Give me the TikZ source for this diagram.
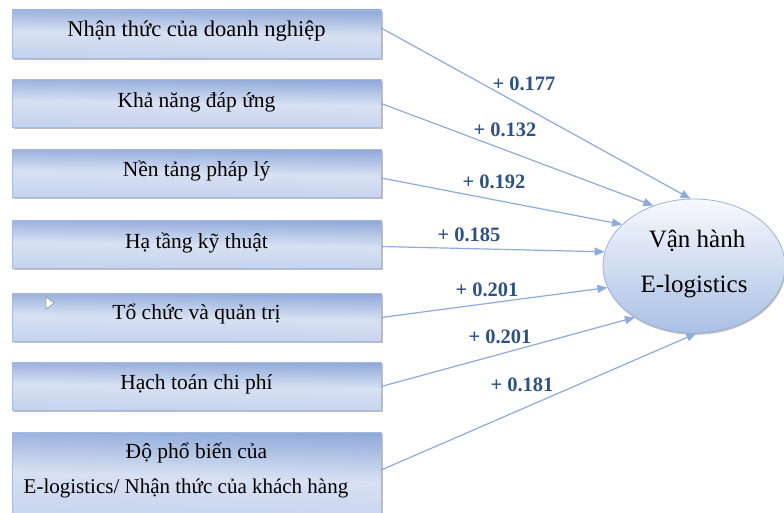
\documentclass[tikz,border=0pt]{standalone}
\usepackage{fontspec}
\setmainfont{Liberation Serif}
\usetikzlibrary{shapes.geometric,arrows.meta,shadows}
\definecolor{boxtop}{HTML}{8FA9D9}
\definecolor{boxmid}{HTML}{D8E1F3}
\definecolor{boxbot}{HTML}{C4D2ED}
\definecolor{linkblue}{HTML}{8FAADC}
\definecolor{weightblue}{HTML}{2E5283}
\definecolor{ovaltop}{HTML}{F7F9FD}
\definecolor{ovalbot}{HTML}{AAC0E5}
\definecolor{ovaledge}{HTML}{9AB3DD}
\begin{document}
\begin{tikzpicture}[x=1pt,y=-1pt,
  factor/.style={rectangle, inner sep=0pt, minimum width=369pt, minimum height=48pt,
    draw=boxtop!80!white, line width=0.4pt,
    top color=boxtop, bottom color=boxbot, middle color=boxmid, shading angle=-0.8,
    drop shadow={shadow xshift=1.6pt, shadow yshift=-1.6pt, fill=black!45, opacity=0.55}},
  ftext/.style={anchor=base, font=\fontsize{21.5}{24}\selectfont, text=black, inner sep=0pt},
  weight/.style={font=\bfseries\fontsize{20.5}{22}\selectfont, text=weightblue, inner sep=0pt},
  link/.style={draw=linkblue, line width=1.2pt, -{Triangle[length=10pt,width=8pt]}},
  otext/.style={anchor=base, font=\fontsize{25}{28}\selectfont, text=black, inner sep=0pt}]
\useasboundingbox (0,0) rectangle (784,513);
\clip (0,0) rectangle (784,513);
\fill[white] (0,0) rectangle (784,513);

% factor boxes
\node[factor] (b1) at (196.5,34) {};
\node[factor] (b2) at (196.5,103.5) {};
\node[factor] (b3) at (196.5,173.5) {};
\node[factor] (b4) at (196.5,244.5) {};
\node[factor] (b5) at (196.5,317.5) {};
\node[factor] (b6) at (196.5,386.5) {};
\node[factor, minimum height=90pt, shading angle=-1.5] (b7) at (196.5,477) {};

\node[ftext, font=\fontsize{22.5}{25}\selectfont] (t1) at (196.5,37) {Nhận thức của doanh nghiệp};
\node[ftext] (t2) at (196.5,108) {Khả năng đáp ứng};
\node[ftext] (t3) at (196.5,177) {Nền tảng pháp lý};
\node[ftext] (t4) at (196.5,248) {Hạ tầng kỹ thuật};
\node[ftext] (t5) at (196.5,319) {Tổ chức và quản trị};
\node[ftext] (t6) at (196.5,389) {Hạch toán chi phí};
\node[ftext] (t7a) at (196.5,458) {Độ phổ biến của};
\node[ftext, font=\fontsize{21}{24}\selectfont] (t7b) at (186,493) {E-logistics/ Nhận thức của khách hàng};

% small marker in the fifth box
\draw[black!45, fill=white, line width=0.5pt] (46,297) -- (54,303) -- (46,309) -- cycle;

% outcome oval
\node[ellipse, minimum width=182pt, minimum height=134pt, inner sep=0pt,
  draw=ovaledge, line width=0.8pt, top color=ovaltop, bottom color=ovalbot,
  drop shadow={shadow xshift=0.8pt, shadow yshift=-1.8pt, fill=black!50, opacity=0.5}]
  (ev) at (694,266) {};
\node[otext] (o1) at (697,247) {Vận hành};
\node[otext] (o2) at (694,292) {E-logistics};

% weighted links
\draw[link] ([yshift=6pt]b1.east) -- (ev.93.4);
\draw[link] (b2.east) -- (ev.124.8);
\draw[link] ([yshift=-4.5pt]b3.east) -- (ev.150.3);
\draw[link] ([yshift=-2pt]b4.east) -- (ev.171.2);
\draw[link] (b5.east) -- (ev.194.8);
\draw[link] (b6.east) -- (ev.221.8);
\draw[link] ([yshift=7pt]b7.east) -- (ev.272.5);

\node[weight] (w1) at (524,84) {+ 0.177};
\node[weight] (w2) at (505,130) {+ 0.132};
\node[weight] (w3) at (494,182) {+ 0.192};
\node[weight] (w4) at (469,235) {+ 0.185};
\node[weight] (w5) at (487,290) {+ 0.201};
\node[weight] (w6) at (500,337) {+ 0.201};
\node[weight] (w7) at (522,385) {+ 0.181};
\end{tikzpicture}
\end{document}
